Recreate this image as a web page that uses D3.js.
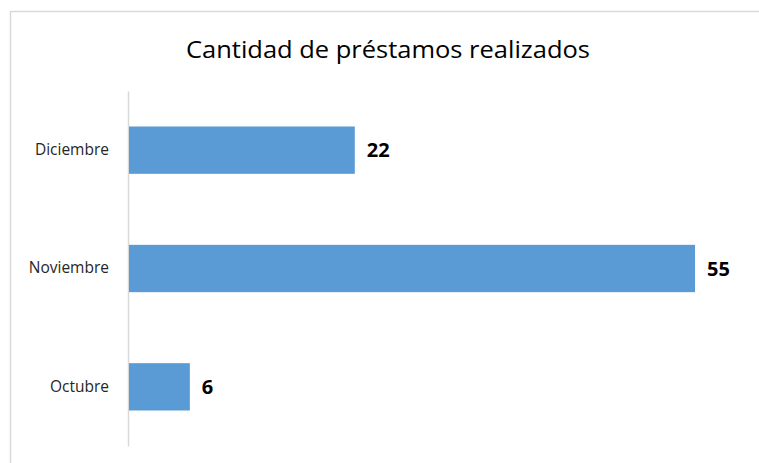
<!DOCTYPE html>
<html>
<head>
<meta charset="utf-8">
<script src="https://cdn.jsdelivr.net/npm/d3@7"></script>
<style>
  body { margin: 0; background: #fff; }
  svg { display: block; font-family: 'Open Sans', 'Noto Sans', sans-serif; }
</style>
</head>
<body>
<div id="chart"></div>
<script>
const title = 'Cantidad de préstamos realizados'
const months = ['Diciembre', 'Noviembre', 'Octubre']
const loans = [22, 55, 6]

const width = 759
const height = 463
const margin = { top: 91, right: 64, bottom: 17, left: 128 }

const svg = d3.select('#chart').append('svg')
  .attr('width', width)
  .attr('height', height)

// chart area frame
svg.append('rect')
  .attr('x', 10.5)
  .attr('y', 11.5)
  .attr('width', width)
  .attr('height', height)
  .attr('fill', 'none')
  .attr('stroke', '#d9d9d9')
  .attr('stroke-width', 1.5)

svg.append('text')
  .attr('x', 388)
  .attr('y', 58)
  .attr('text-anchor', 'middle')
  .attr('textLength', 404)
  .attr('lengthAdjust', 'spacingAndGlyphs')
  .style('font-size', '24px')
  .style('fill', '#000')
  .text(title)

const xScale = d3.scaleLinear()
  .domain([0, 55])
  .range([margin.left, width - margin.right])

const yScale = d3.scaleBand()
  .domain(months)
  .range([margin.top, height - margin.bottom])
  .paddingInner(0.6)
  .paddingOuter(0.3)

const yAxis = svg.append('g')
  .attr('transform', `translate(${margin.left},0)`)
  .call(d3.axisLeft(yScale).tickSize(0).tickPadding(19))
yAxis.select('.domain').attr('stroke', '#d9d9d9').attr('stroke-width', 1.5)
yAxis.selectAll('text')
  .style('font-size', '15.5px')
  .style('fill', '#262626')
  .style('font-family', "'Open Sans', 'Noto Sans', sans-serif")

const rows = months.map((m, i) => ({ month: m, value: loans[i] }))

svg.append('g')
  .selectAll('rect')
  .data(rows)
  .join('rect')
  .attr('x', xScale(0) + 1)
  .attr('y', d => yScale(d.month))
  .attr('width', d => xScale(d.value) - xScale(0) - 1)
  .attr('height', yScale.bandwidth())
  .attr('fill', '#5b9bd5')

svg.append('g')
  .selectAll('text')
  .data(rows)
  .join('text')
  .attr('x', d => xScale(d.value) + 12)
  .attr('y', d => yScale(d.month) + yScale.bandwidth() / 2)
  .attr('dy', '0.36em')
  .style('font-size', '20px')
  .style('font-weight', 'bold')
  .style('fill', '#000')
  .text(d => d.value)
</script>
</body>
</html>
